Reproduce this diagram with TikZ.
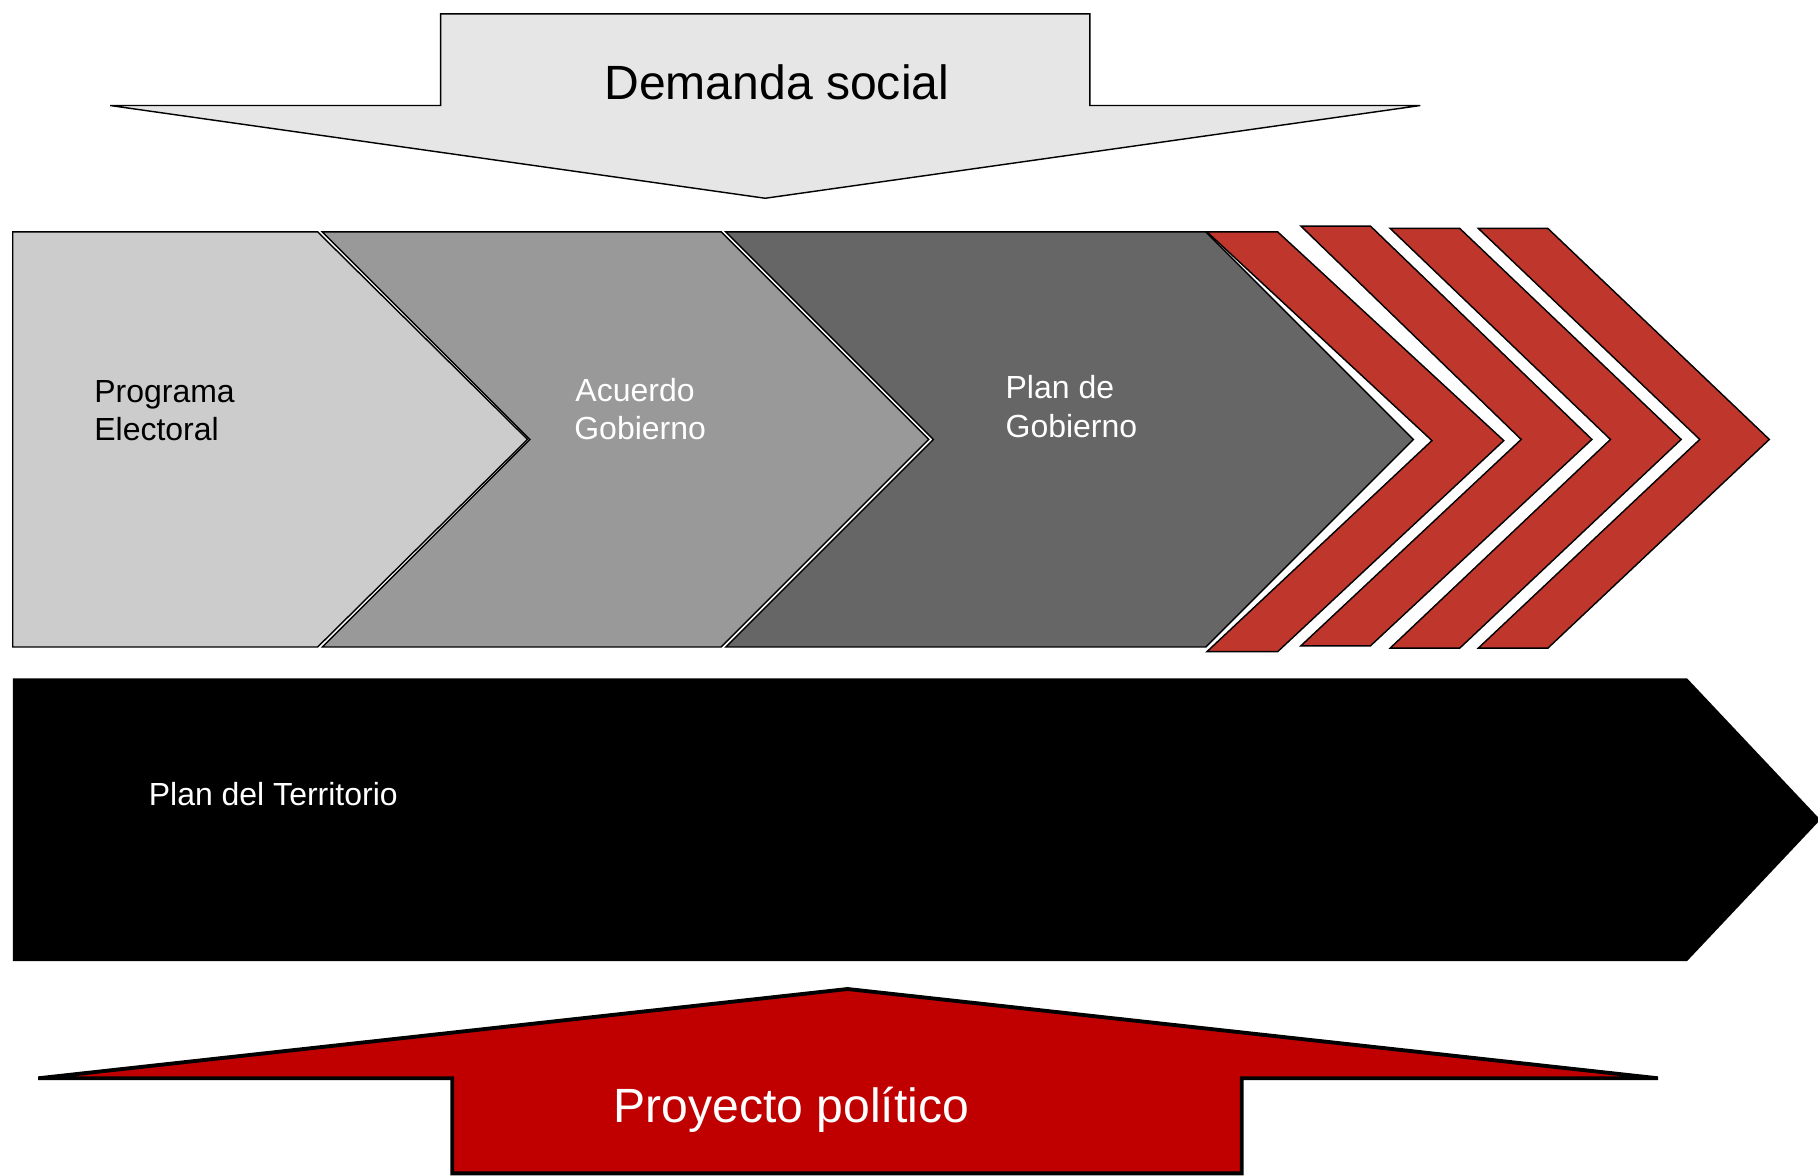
\documentclass[tikz,border=0pt]{standalone}
\usepackage{fontspec}
\setmainfont{Liberation Sans}
\definecolor{topgray}{RGB}{230,230,230}
\definecolor{g1}{RGB}{204,204,204}
\definecolor{g2}{RGB}{153,153,153}
\definecolor{g3}{RGB}{102,102,102}
\definecolor{chevred}{RGB}{191,54,44}
\definecolor{arrowred}{RGB}{192,0,0}
\tikzset{
  thinshape/.style={draw=black, line width=0.7pt, line join=miter},
  smalltxt/.style={inner sep=0pt, anchor=base west, font=\fontsize{15.7}{18.8}\selectfont},
  bigtxt/.style={inner sep=0pt, anchor=base west, font=\fontsize{23.6}{28}\selectfont},
}
\begin{document}
\begin{tikzpicture}[x=0.02cm,y=-0.02cm]
\useasboundingbox (0,0) rectangle (1568,1014);

% top arrow: Demanda social
\path[thinshape, fill=topgray] (380,12) -- (940,12) -- (940,91) -- (1225,91) -- (660,171) -- (95,91) -- (380,91) -- cycle;

% process chevrons
\path[thinshape, fill=g1] (11,200) -- (274,200) -- (455,379) -- (274,558) -- (11,558) -- cycle;
\path[thinshape, fill=g2] (278,200) -- (622,200) -- (801,379) -- (622,558) -- (278,558) -- (457,379) -- cycle;
\path[thinshape, fill=g3] (626,200) -- (1040,200) -- (1219,379) -- (1040,558) -- (626,558) -- (805,379) -- cycle;

% red chevrons
\path[thinshape, fill=chevred] (1041,200) -- (1102,200) -- (1297,380) -- (1102,562) -- (1041,562) -- (1235,380) -- cycle;
\path[thinshape, fill=chevred] (1122,195) -- (1182,195) -- (1373,379) -- (1182,557) -- (1122,557) -- (1312,379) -- cycle;
\path[thinshape, fill=chevred] (1199,197) -- (1259,197) -- (1450,379) -- (1259,559) -- (1199,559) -- (1389,379) -- cycle;
\path[thinshape, fill=chevred] (1275,197) -- (1335,197) -- (1526,379) -- (1335,559) -- (1275,559) -- (1466,379) -- cycle;

% black band
\path[fill=black] (11,585) -- (1455,585) -- (1570,707) -- (1455,829) -- (11,829) -- cycle;

% bottom arrow: Proyecto politico
\path[draw=black, line width=1.9pt, fill=arrowred] (390,1012) -- (390,930) -- (33,930) -- (731,853) -- (1430,930) -- (1071,930) -- (1071,1012) -- cycle;

% texts
\node[bigtxt] (ds) at (521,85.4) {Demanda social};
\node[smalltxt] (pe1) at (81,347) {Programa};
\node[smalltxt] (pe2) at (81,380) {Electoral};
\node[smalltxt, text=white] (ag1) at (496,346) {Acuerdo};
\node[smalltxt, text=white] (ag2) at (495,379) {Gobierno};
\node[smalltxt, text=white] (pg1) at (867,344) {Plan de};
\node[smalltxt, text=white] (pg2) at (867,377) {Gobierno};
\node[smalltxt, text=white] (pt) at (128,695) {Plan del Territorio};
\node[bigtxt, text=white] (pp) at (529,968) {Proyecto político};
\end{tikzpicture}
\end{document}
